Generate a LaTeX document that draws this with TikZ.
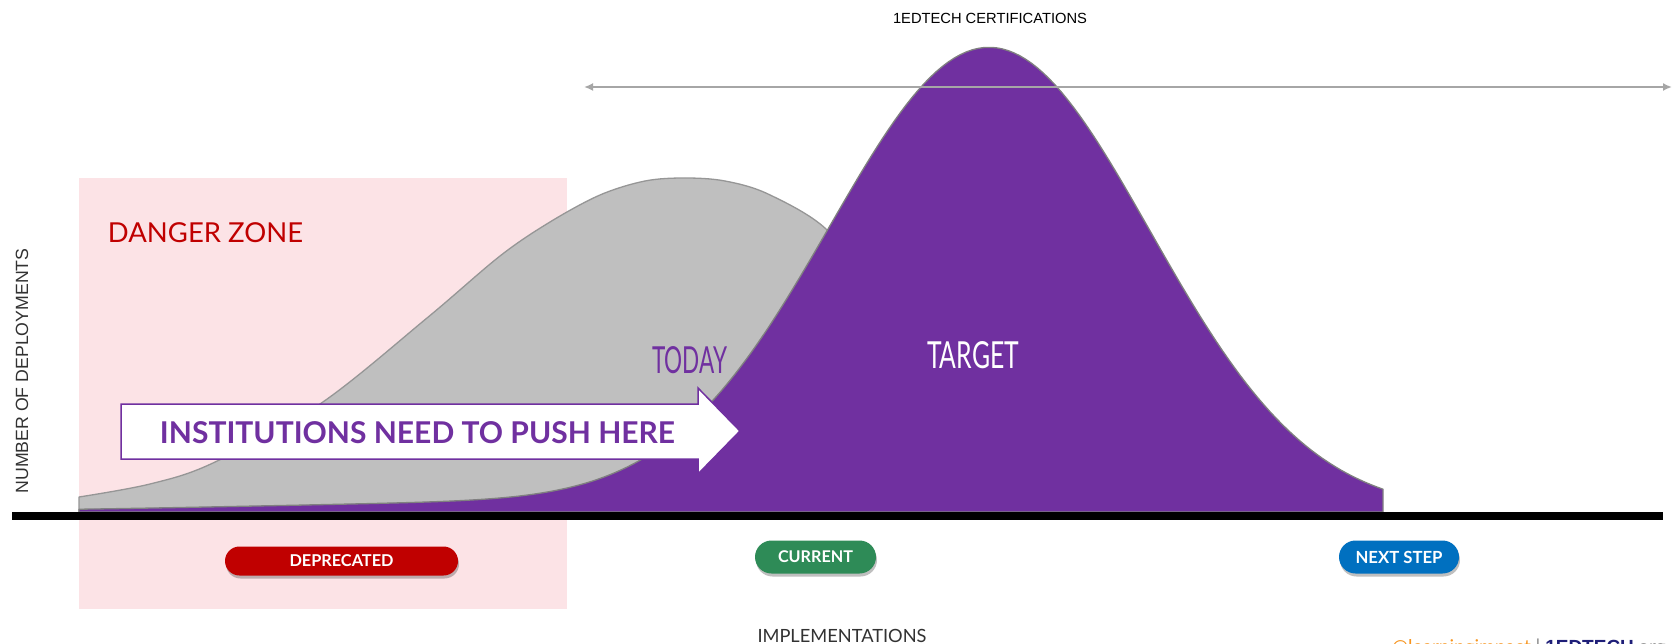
\documentclass[tikz,border=0pt]{standalone}
\usepackage{fontspec}
\setmainfont{Lato}
\newfontfamily\arialf{Liberation Sans}
\usetikzlibrary{arrows.meta,shadows,shapes.misc}
\definecolor{pinkzone}{RGB}{252,227,230}
\definecolor{grayfill}{RGB}{191,191,191}
\definecolor{grayedge}{RGB}{150,150,150}
\definecolor{purp}{RGB}{112,48,160}
\definecolor{purpedge}{RGB}{128,128,128}
\definecolor{dred}{RGB}{192,0,0}
\definecolor{dgreen}{RGB}{46,139,87}
\definecolor{dblue}{RGB}{0,112,192}
\definecolor{axisgray}{RGB}{166,166,166}
\definecolor{orangec}{RGB}{247,148,29}
\definecolor{navyc}{RGB}{30,30,120}
\definecolor{textdark}{RGB}{50,50,50}
\newcommand\fitto[2]{\resizebox{#1}{!}{#2}}
\begin{document}
\begin{tikzpicture}[x=1pt,y=-1pt,
  pill/.style={rounded rectangle, minimum height=33pt, inner sep=0pt, text=white,
    drop shadow={shadow xshift=1pt, shadow yshift=-3pt, opacity=0.25, fill=black}},
  lbl/.style={inner sep=0pt},
  curveedge/.style={line width=1.3pt, line join=round}]
\clip (0,0) rectangle (1672,644);
\fill[white] (0,0) rectangle (1672,644);

% danger zone
\fill[pinkzone] (79,178) rectangle (567,609);
\node[lbl, text=dred] (dz) at (205.5,232.5) {\fitto{195pt}{\fontsize{28}{28}\selectfont DANGER ZONE}};

% gray curve
\filldraw[fill=grayfill, draw=grayedge, curveedge] (79,512) -- plot[smooth, tension=0.55] coordinates {(79,497) (150,484) (213,463) (320,404) (427,318) (500,256) (550,222) (600,195) (645,181) (685,178) (725,181) (768,194) (826,229) (870,290) (920,400) (965,512)} -- cycle;

% purple curve
\filldraw[fill=purp, draw=purpedge, curveedge] (79,512) -- plot[domain=79:1383, samples=220] (\x,{512-461*exp(-0.5*((\x-990)/160)^2)-10*exp(-0.5*((\x-560)/300)^2)}) -- (1383,512) -- cycle;

% baseline
\coordinate (bl) at (12,516);
\coordinate (br) at (1663,516);
\draw[black, line width=8pt] (bl) -- (br);

% certification range arrow
\node[lbl] (title) at (990,18) {\fitto{194pt}{\arialf\fontsize{14.5}{14.5}\selectfont 1EDTECH CERTIFICATIONS}};
\coordinate (cl) at (584,87);
\coordinate (cr) at (1672,87);
\draw[axisgray, line width=2pt, {Latex[length=9pt,width=8pt]}-{Latex[length=9pt,width=8pt]}] (cl) -- (cr);

% axis labels
\node[lbl, rotate=90, text=textdark] (ylab) at (22,371) {\fitto{245pt}{\arialf\fontsize{17.5}{17.5}\selectfont NUMBER OF DEPLOYMENTS}};
\node[lbl, text=textdark] (xlab) at (842,635.5) {\fitto{169pt}{\fontsize{17}{17}\selectfont IMPLEMENTATIONS}};

% TODAY / TARGET
\node[lbl, text=purp] (today) at (689.5,360) {\resizebox{75pt}{27pt}{\fontsize{40}{40}\selectfont TODAY}};
\node[lbl, text=white] (target) at (973,355) {\resizebox{92pt}{27pt}{\fontsize{40}{40}\selectfont TARGET}};

% push arrow
\draw[purp, line width=1.5pt, fill=white, line join=miter] (121,404) -- (698,404) -- (698,388) -- (740,431) -- (698,474) -- (698,459) -- (121,459) -- cycle;
\node[lbl, text=purp] (push) at (417.5,433) {\fitto{515pt}{\fontsize{30}{30}\selectfont\bfseries INSTITUTIONS NEED TO PUSH HERE}};

% pills
\node[pill, fill=dred, minimum width=233pt, minimum height=29pt] (dep) at (341.5,561) {\fitto{104pt}{\fontsize{15}{15}\selectfont\bfseries DEPRECATED}};
\node[pill, fill=dgreen, minimum width=121pt] (cur) at (815.5,557) {\fitto{75pt}{\fontsize{15}{15}\selectfont\bfseries CURRENT}};
\node[pill, fill=dblue, minimum width=120pt] (nxt) at (1399,557) {\fitto{87pt}{\fontsize{15}{15}\selectfont\bfseries NEXT STEP}};

% credits (cut off at the bottom edge, as in the reference)
\node[anchor=base west, inner sep=0pt] (cred) at (1392,653) {\fontsize{19}{19}\selectfont\textcolor{orangec}{@learningimpact} \textcolor{gray}{|} \textcolor{navyc}{\arialf\bfseries 1EDTECH}\textcolor{gray}{.org}};
\end{tikzpicture}
\end{document}
